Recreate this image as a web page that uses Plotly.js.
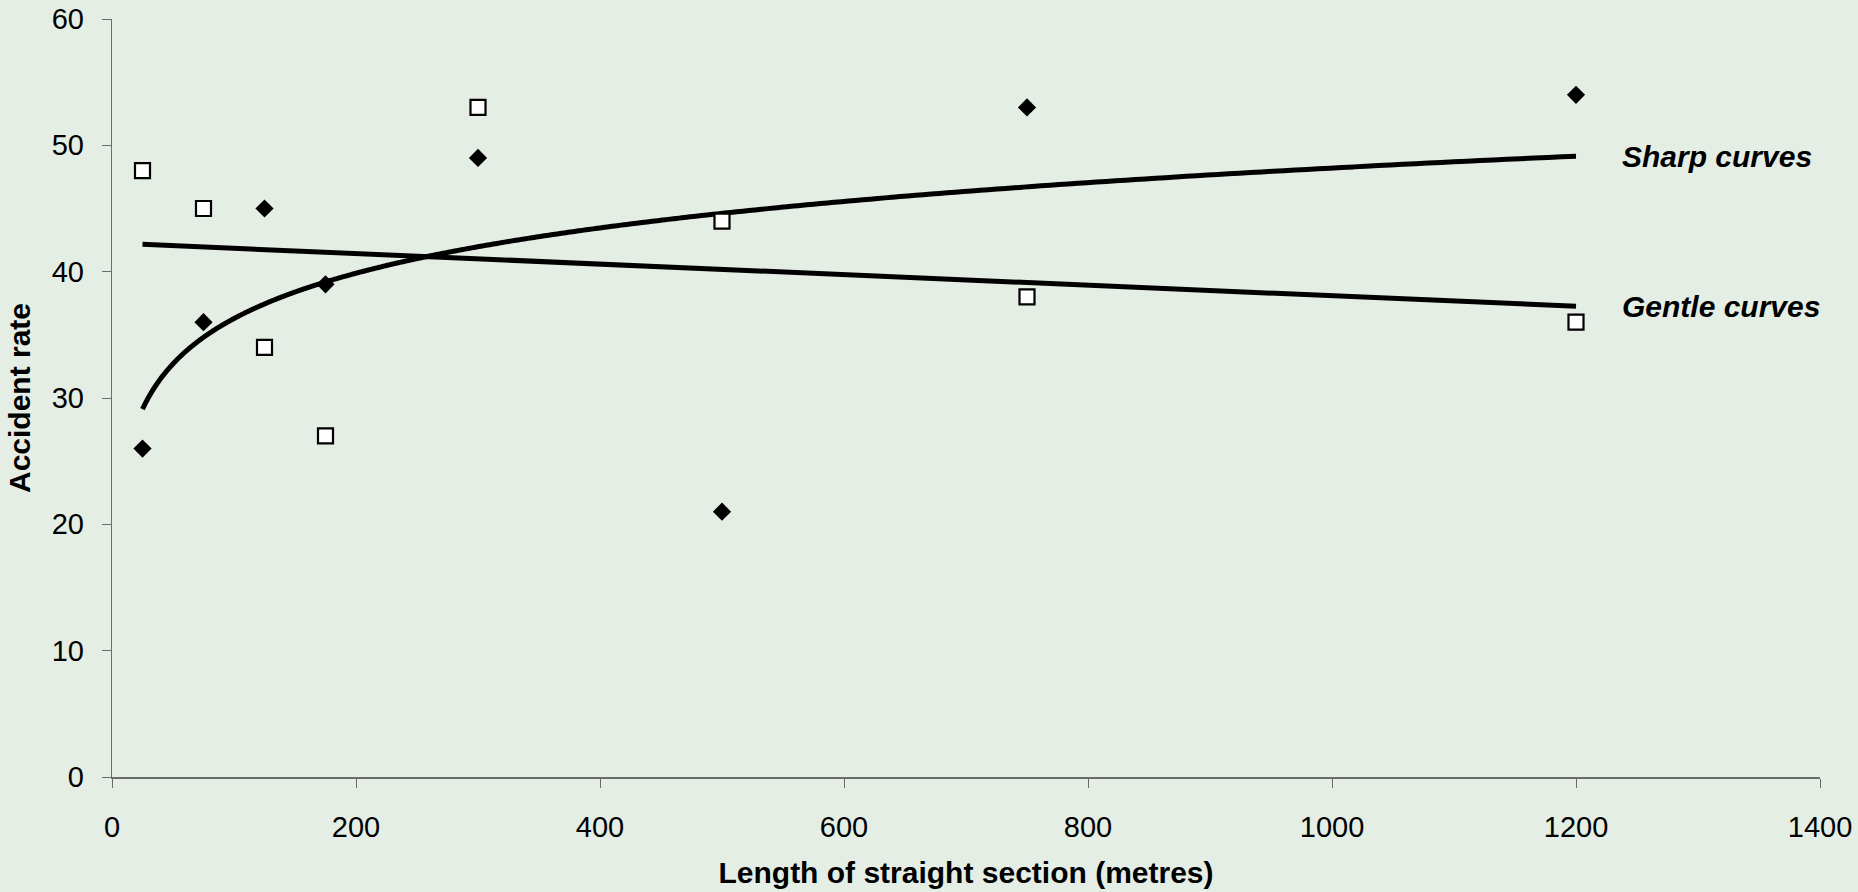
<!DOCTYPE html>
<html>
<head>
<meta charset="utf-8">
<script src="https://cdn.plot.ly/plotly-3.0.1.min.js"></script>
<style>
  html, body { margin: 0; padding: 0; background: #E4EEE5; }
  #chart { width: 1858px; height: 892px; }
</style>
</head>
<body>
<div id="chart"></div>
<script>
// Data
const lengths = [25, 75, 125, 175, 300, 500, 750, 1200];
const sharpRates = [26, 36, 45, 39, 49, 21, 53, 54];
const gentleRates = [48, 45, 34, 27, 53, 44, 38, 36];
const xTicks = [0, 200, 400, 600, 800, 1000, 1200, 1400];
const yTicks = [0, 10, 20, 30, 40, 50, 60];
const seriesLabels = ["Sharp curves", "Gentle curves"];

// Trendlines (as in the spreadsheet): logarithmic fit for sharp, linear fit for gentle
function mean(a) { return a.reduce((s, v) => s + v, 0) / a.length; }
function linFit(xs, ys) {
  const mx = mean(xs), my = mean(ys);
  let sxy = 0, sxx = 0;
  for (let i = 0; i < xs.length; i++) { sxy += (xs[i] - mx) * (ys[i] - my); sxx += (xs[i] - mx) ** 2; }
  const b = sxy / sxx;
  return { slope: b, intercept: my - b * mx };
}
const logFit = linFit(lengths.map(Math.log), sharpRates);
const linF = linFit(lengths, gentleRates);
const xMin = Math.min(...lengths), xMax = Math.max(...lengths);
const trendX = [];
for (let i = 0; i <= 400; i++) trendX.push(xMin * Math.pow(xMax / xMin, i / 400));
const sharpTrendY = trendX.map(x => logFit.intercept + logFit.slope * Math.log(x));
const gentleTrendX = [xMin, xMax];
const gentleTrendY = gentleTrendX.map(x => linF.intercept + linF.slope * x);

const font = "Liberation Sans, Arial, sans-serif";

const traces = [
  { x: trendX, y: sharpTrendY, mode: "lines", line: { color: "#000", width: 5, shape: "spline" }, hoverinfo: "skip", showlegend: false },
  { x: gentleTrendX, y: gentleTrendY, mode: "lines", line: { color: "#000", width: 5 }, hoverinfo: "skip", showlegend: false },
  { x: lengths, y: sharpRates, mode: "markers", name: seriesLabels[0],
    marker: { symbol: "diamond", size: 14, color: "#000", line: { width: 0 } }, showlegend: false },
  { x: lengths, y: gentleRates, mode: "markers", name: seriesLabels[1],
    marker: { symbol: "square", size: 15, color: "#fff", line: { color: "#000", width: 2.2 } }, showlegend: false }
];

const layout = {
  width: 1858, height: 892,
  paper_bgcolor: "#E4EEE5", plot_bgcolor: "#E4EEE5",
  margin: { l: 112, r: 38, t: 19, b: 115 },
  font: { family: font, color: "#000", size: 29 },
  showlegend: false,
  xaxis: {
    range: [0, 1400], tickvals: xTicks, ticktext: xTicks.map(String),
    showgrid: false, zeroline: false, showline: true, linecolor: "#6b6b6b", linewidth: 2,
    ticks: "outside", ticklen: 9, tickcolor: "#6b6b6b", tickwidth: 1,
    tickfont: { size: 29, family: font, color: "#000" },
    ticklabelstandoff: 14,
    title: { text: "Length of straight section (metres)", font: { size: 30, family: font, color: "#000", weight: "bold" }, standoff: 20 }
  },
  yaxis: {
    range: [0, 60], tickvals: yTicks, ticktext: yTicks.map(String),
    showgrid: false, zeroline: false, showline: true, linecolor: "#6b6b6b", linewidth: 1.2,
    ticks: "outside", ticklen: 9, tickcolor: "#6b6b6b", tickwidth: 1,
    tickfont: { size: 29, family: font, color: "#000" },
    ticklabelstandoff: 12,
    title: { text: "Accident rate", font: { size: 30, family: font, color: "#000", weight: "bold" }, standoff: 12 }
  },
  annotations: [
    { x: 1236, y: sharpTrendY[sharpTrendY.length - 1], xref: "x", yref: "y", xanchor: "left", yanchor: "middle",
      text: "<b><i>" + seriesLabels[0] + "</i></b>", showarrow: false, font: { size: 30, family: font, color: "#000" } },
    { x: 1236, y: gentleTrendY[1], xref: "x", yref: "y", xanchor: "left", yanchor: "middle",
      text: "<b><i>" + seriesLabels[1] + "</i></b>", showarrow: false, font: { size: 30, family: font, color: "#000" } }
  ]
};

Plotly.newPlot("chart", traces, layout, { displayModeBar: false, staticPlot: true });
</script>
</body>
</html>
